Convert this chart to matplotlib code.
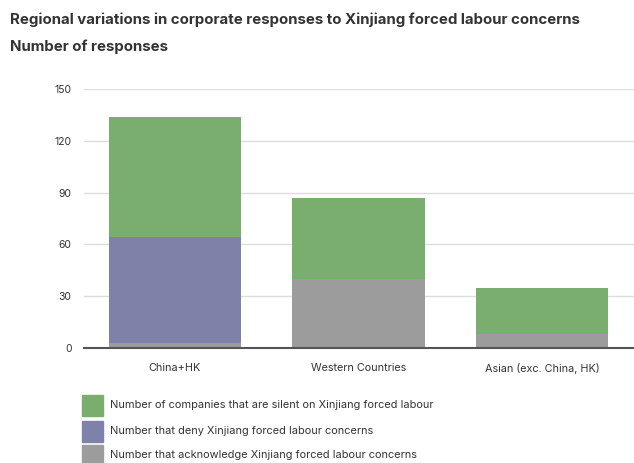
import matplotlib
matplotlib.use("Agg")
import matplotlib.pyplot as plt
from matplotlib.patches import Rectangle

plt.rcParams['font.family'] = ['Inter', 'DejaVu Sans']

categories = ["China+HK", "Western Countries", "Asian (exc. China, HK)"]
acknowledge = [3, 40, 8]
deny = [61, 0, 0]
silent = [70, 47, 27]
yticks = [0, 30, 60, 90, 120, 150]
series_labels = [
    "Number of companies that are silent on Xinjiang forced labour",
    "Number that deny Xinjiang forced labour concerns",
    "Number that acknowledge Xinjiang forced labour concerns",
]

c_green = "#79AE6F"
c_purple = "#7F82A8"
c_gray = "#9C9C9C"

fig = plt.figure(figsize=(6.34, 4.63), dpi=100)
ax = fig.add_axes([84/634, (463-348)/463, (634-84)/634, (348-89)/463])

x = list(range(len(categories)))
w = 0.72
ax.bar(x, acknowledge, width=w, color=c_gray, zorder=2)
bottom2 = [a for a in acknowledge]
ax.bar(x, deny, width=w, bottom=bottom2, color=c_purple, zorder=2)
bottom3 = [a + d for a, d in zip(acknowledge, deny)]
ax.bar(x, silent, width=w, bottom=bottom3, color=c_green, zorder=2)

ax.set_xlim(-0.495, 2.5)
ax.set_ylim(0, 150)
ax.set_yticks(yticks)
ax.set_yticklabels([str(v) for v in yticks], fontsize=7.5, color="#333333")
ax.set_xticks(x)
ax.set_xticklabels(categories, fontsize=7.8, color="#333333")
ax.tick_params(axis='both', length=0)
ax.tick_params(axis='y', pad=9)
ax.tick_params(axis='x', pad=11)
ax.grid(axis='y', color="#DDDDDD", linewidth=1, zorder=0)
for s in ["top", "right", "left"]:
    ax.spines[s].set_visible(False)
ax.spines["bottom"].set_color("#555555")
ax.spines["bottom"].set_linewidth(1.5)
ax.spines["bottom"].set_zorder(3)

fig.text(10/634, 1 - 20/463, "Regional variations in corporate responses to Xinjiang forced labour concerns",
         fontsize=10.8, fontweight='bold', color="#333333", va='center', ha='left')
fig.text(10/634, 1 - 47/463, "Number of responses",
         fontsize=10.8, fontweight='bold', color="#333333", va='center', ha='left')

leg_colors = [c_green, c_purple, c_gray]
leg_y = [405, 431, 455]
for col, lab, yc in zip(leg_colors, series_labels, leg_y):
    fig.patches.append(Rectangle((82/634, 1 - (yc + 11)/463), 21/634, 21/463,
                                 transform=fig.transFigure, color=col, figure=fig))
    fig.text(110/634, 1 - yc/463, lab, fontsize=7.9, color="#333333", va='center', ha='left')

fig.savefig("out.png", dpi=100)
